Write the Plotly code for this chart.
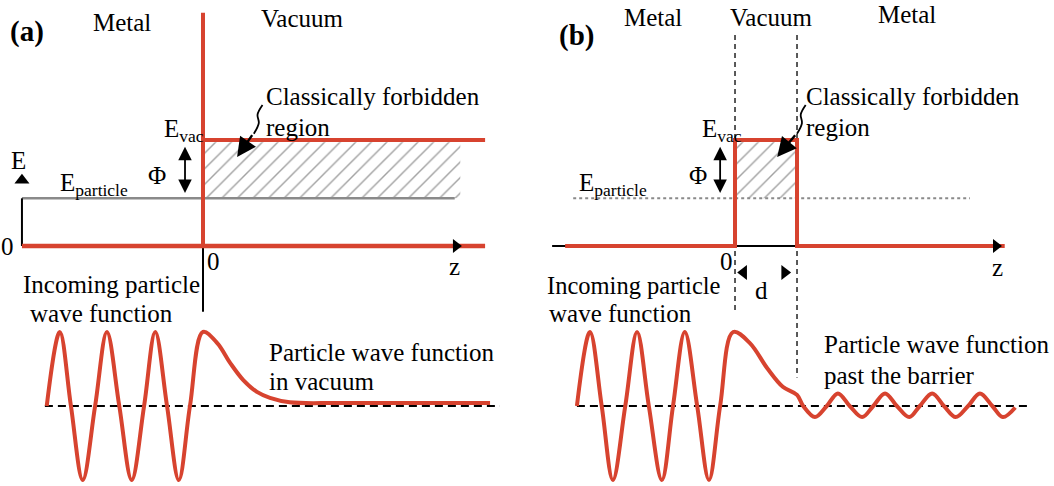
import plotly.graph_objects as go

# ---------------- data (z in units of barrier width d, E in units of work function) ----------
E_PARTICLE = 0.45
E_VAC = 1.0

# panel (a) wave function: key points (peaks, troughs, zero crossings, decay)
wave_a_z = [-2.52, -2.31, -2.13, -1.94, -1.74, -1.55, -1.35, -1.15, -0.95, -0.77, -0.58, -0.39,
            -0.21, 0.0, 0.23, 0.44, 0.65, 0.87, 1.08, 1.40, 2.21, 4.63]
wave_a_psi = [0.0, 1.0, 0.0, -1.0, 0.0, 1.0, 0.0, -1.0, 0.0, 1.0, 0.0, -1.0,
              0.0, 1.0, 0.85, 0.58, 0.35, 0.19, 0.11, 0.05, 0.04, 0.04]

# panel (b) wave function: incoming, decay in barrier, transmitted oscillation
wave_b_z = [-2.55, -2.34, -2.15, -1.97, -1.77, -1.58, -1.39, -1.18, -1.0, -0.81, -0.61, -0.42,
            -0.24, -0.03, 0.24, 0.52, 0.77, 1.0, 1.10, 1.29, 1.48, 1.66, 1.85, 2.05, 2.23,
            2.42, 2.61, 2.81, 2.98, 3.18, 3.37, 3.56, 3.76, 3.95, 4.15, 4.32, 4.52]
wave_b_psi = [0.0, 1.0, 0.0, -1.0, 0.0, 1.0, 0.0, -1.0, 0.0, 1.0, 0.0, -1.0,
              0.0, 1.0, 0.85, 0.51, 0.26, 0.15, 0.0, -0.15, 0.0, 0.17, 0.0, -0.15, 0.0,
              0.17, 0.0, -0.15, 0.0, 0.17, 0.0, -0.15, 0.0, 0.17, 0.0, -0.15, -0.02]

# potential profiles
pot_a_z = [0.0, 0.0, 4.55]
pot_a_E = [2.2, E_VAC, E_VAC]
base_a_z = [-2.92, 4.55]
pot_b_z = [-2.74, 0.0, 0.0, 1.0, 1.0, 4.35]
pot_b_E = [0.0, 0.0, E_VAC, E_VAC, 0.0, 0.0]

# extents
hatch_a_z = [0.03, 4.15]
hatch_b_z = [0.03, 0.97]
particle_a_z = [-2.92, 4.06]
particle_b_z = [-2.61, 3.79]
baseline_a_z = [-2.55, 4.79]
baseline_b_z = [-2.55, 4.76]
z_arrow_pos = [4.08, 4.21]   # (a), (b)

# squiggles (label pointer)
squig_a_z = [0.96, 0.88, 0.90, 0.82]
squig_b_z = [1.14, 1.06, 1.08, 1.00]
squig_E = [1.33, 1.24, 1.16, 1.06]

RED = "#d7432f"
FONT = "Liberation Serif"
FS = 25

fig = go.Figure()


def line(x, y, xa, ya, color, width, dash=None, shape="linear"):
    fig.add_trace(go.Scatter(x=x, y=y, xaxis=xa, yaxis=ya, mode="lines",
                             line=dict(color=color, width=width, dash=dash, shape=shape),
                             hoverinfo="skip", showlegend=False))


def marks(x, y, xa, symbols, size, angle=0):
    fig.add_trace(go.Scatter(x=x, y=y, xaxis=xa, yaxis="y", mode="markers",
                             marker=dict(symbol=symbols, size=size, color="black", angle=angle,
                                         line=dict(width=0)),
                             hoverinfo="skip", showlegend=False))


hatch = dict(shape="/", size=11, solidity=0.13, fgcolor="#454545", bgcolor="white")

# ---------- panel (a) top ----------
fig.add_trace(go.Scatter(x=[hatch_a_z[0], hatch_a_z[1], hatch_a_z[1], hatch_a_z[0], hatch_a_z[0]],
                         y=[E_PARTICLE, E_PARTICLE, 0.98, 0.98, E_PARTICLE],
                         xaxis="x", yaxis="y", mode="none", fill="toself",
                         fillcolor="rgba(0,0,0,0)", fillpattern=hatch,
                         hoverinfo="skip", showlegend=False))
line(particle_a_z, [E_PARTICLE, E_PARTICLE], "x", "y", "#8a8a8a", 2.5)
line([-2.92, -2.92], [0, E_PARTICLE], "x", "y", "black", 2)
line([0, 0], [0, -0.62], "x", "y", "black", 2)
line(base_a_z, [0, 0], "x", "y", RED, 4.5)
line(pot_a_z, pot_a_E, "x", "y", RED, 4)
line([0, 0], [0, E_VAC], "x", "y", RED, 4)
line(squig_a_z, squig_E, "x", "y", "black", 1.8, shape="spline")
marks([-2.92], [0.62], "x", "triangle-up", 13)
marks([z_arrow_pos[0]], [0.0], "x", "triangle-right", 12)

# ---------- panel (b) top ----------
line([0, 0], [1.99, -0.62], "x2", "y", "black", 1.3, dash="5px,4px")
line([1, 1], [1.99, -1.24], "x2", "y", "black", 1.3, dash="5px,4px")
fig.add_trace(go.Scatter(x=[hatch_b_z[0], hatch_b_z[1], hatch_b_z[1], hatch_b_z[0], hatch_b_z[0]],
                         y=[E_PARTICLE, E_PARTICLE, 0.98, 0.98, E_PARTICLE],
                         xaxis="x2", yaxis="y", mode="none", fill="toself",
                         fillcolor="rgba(0,0,0,0)", fillpattern=hatch,
                         hoverinfo="skip", showlegend=False))
line(particle_b_z, [E_PARTICLE, E_PARTICLE], "x2", "y", "#8a8a8a", 2, dash="dot")
line([-2.95, 4.2], [0, 0], "x2", "y", "black", 2)
line(pot_b_z, pot_b_E, "x2", "y", RED, 4)
line(squig_b_z, squig_E, "x2", "y", "black", 1.8, shape="spline")
marks([0.14, 0.8], [-0.25, -0.25], "x2", ["triangle-left", "triangle-right"], 13)
marks([z_arrow_pos[1]], [0.0], "x2", "triangle-right", 12)

# ---------- wave functions ----------
line(baseline_a_z, [0, 0], "x", "y2", "black", 2, dash="8px,5px")
line(wave_a_z, wave_a_psi, "x", "y2", RED, 4, shape="spline")
line(baseline_b_z, [0, 0], "x2", "y2", "black", 2, dash="8px,5px")
line(wave_b_z, wave_b_psi, "x2", "y2", RED, 4, shape="spline")

# ---------- annotations ----------
ann = []


def text(t, x, y, xref, yref="y", xanchor="center", size=FS, bold=False):
    ann.append(dict(text=("<b>%s</b>" % t) if bold else t, x=x, y=y, xref=xref, yref=yref,
                    xanchor=xanchor, yanchor="middle", showarrow=False,
                    font=dict(family=FONT, size=size, color="black")))


def arrow(x, y, ax, ay, xref, side="end", head=2, size=1.2, width=1.6):
    ann.append(dict(x=x, y=y, ax=ax, ay=ay, xref=xref, yref="y", axref=xref, ayref="y",
                    text="", showarrow=True, arrowhead=head, startarrowhead=head,
                    arrowside=side, arrowsize=size, startarrowsize=size,
                    arrowwidth=width, arrowcolor="black"))


# panel (a)
text("(a)", -2.84, 2.02, "x", size=29, bold=True)
text("Metal", -1.31, 2.11, "x")
text("Vacuum", 1.6, 2.15, "x")
text("Classically forbidden", 0.99, 1.41, "x", xanchor="left")
text("region", 0.99, 1.12, "x", xanchor="left")
text("E<sub>vac</sub>", -0.31, 1.09, "x")
text("Φ", -0.74, 0.67, "x")
text("E", -2.98, 0.81, "x")
text("E<sub>particle</sub>", -1.76, 0.58, "x")
text("0", -3.15, 0.0, "x")
text("0", 0.17, -0.15, "x")
text("z", 4.06, -0.19, "x")
text("Incoming particle", -2.93, -0.36, "x", xanchor="left")
text("wave function", -2.82, -0.64, "x", xanchor="left")
text("Particle wave function", 1.03, -1.0, "x", xanchor="left")
text("in vacuum", 1.03, -1.28, "x", xanchor="left")
arrow(-0.29, 0.5, -0.29, 0.95, "x", side="end+start", size=1.5, width=1.8)
arrow(0.55, 0.84, 0.81, 1.06, "x", head=2, size=1.6, width=2.4)

# panel (b)
text("(b)", -2.56, 1.99, "x2", size=29, bold=True)
text("Metal", -1.32, 2.16, "x2")
text("Vacuum", 0.58, 2.16, "x2")
text("Metal", 2.77, 2.18, "x2")
text("Classically forbidden", 1.12, 1.41, "x2", xanchor="left")
text("region", 1.12, 1.12, "x2", xanchor="left")
text("E<sub>vac</sub>", -0.21, 1.09, "x2")
text("Φ", -0.6, 0.67, "x2")
text("E<sub>particle</sub>", -1.97, 0.58, "x2")
text("0", -0.14, -0.15, "x2")
text("z", 4.23, -0.2, "x2")
text("d", 0.42, -0.42, "x2")
text("Incoming particle", -3.06, -0.37, "x2", xanchor="left", size=24.5)
text("wave function", -3.03, -0.64, "x2", xanchor="left")
text("Particle wave function", 1.4, -0.93, "x2", xanchor="left")
text("past the barrier", 1.4, -1.22, "x2", xanchor="left")
arrow(-0.24, 0.5, -0.24, 0.95, "x2", side="end+start", size=1.5, width=1.8)
arrow(0.68, 0.84, 0.99, 1.06, "x2", head=2, size=1.6, width=2.4)

hidden = dict(visible=False, showgrid=False, zeroline=False, fixedrange=True)
fig.update_layout(
    width=1054, height=486, margin=dict(l=0, r=0, t=0, b=0),
    paper_bgcolor="white", plot_bgcolor="white", showlegend=False,
    xaxis=dict(domain=[0, 0.5], range=[-3.274, 5.226], anchor="y", **hidden),
    xaxis2=dict(domain=[0.5, 1], range=[-3.355, 5.145], anchor="y", **hidden),
    yaxis=dict(domain=[0, 1], range=[-2.264, 2.321], anchor="x", **hidden),
    yaxis2=dict(domain=[0, 1], range=[-1.081, 5.486], anchor="x", overlaying="y", **hidden),
    annotations=ann,
)

fig.write_html("out.html")
